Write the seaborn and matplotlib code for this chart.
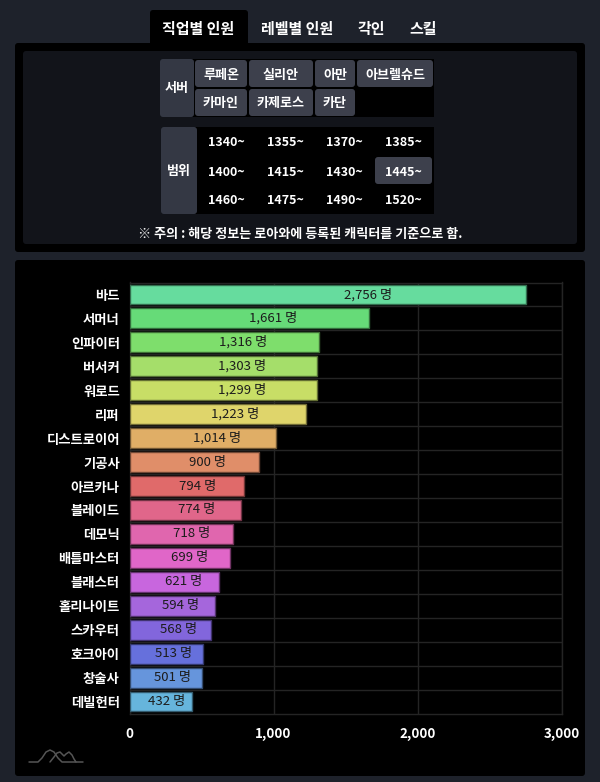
import matplotlib
matplotlib.use('Agg')
import matplotlib.pyplot as plt
from matplotlib.colors import to_rgb
from matplotlib.patches import FancyBboxPatch, Rectangle
import seaborn as sns
import pandas as pd

# chart data
classes = ['바드', '서머너', '인파이터', '버서커', '워로드', '리퍼', '디스트로이어', '기공사', '아르카나',
           '블레이드', '데모닉', '배틀마스터', '블래스터', '홀리나이트', '스카우터', '호크아이', '창술사', '데빌헌터']
counts = [2756, 1661, 1316, 1303, 1299, 1223, 1014, 900, 794, 774, 718, 699, 621, 594, 568, 513, 501, 432]
bar_colors = ['#66dc9e', '#66db78', '#7ede6c', '#a5de6a', '#c8de66', '#dfd56b', '#e0ae66', '#e08e69', '#e06a6a',
              '#e0668a', '#e066ae', '#e066c8', '#c866de', '#a566dc', '#8266dc', '#6670dc', '#6695dc', '#66b5dc']
x_ticks = [0, 1000, 2000, 3000]

# page widgets
tabs = ['직업별 인원', '레벨별 인원', '각인', '스킬']
tab_x = [198, 297, 371, 423]
servers_row1 = ['루페온', '실리안', '아만', '아브렐슈드']
servers_row2 = ['카마인', '카제로스', '카단']
button_edges = [(195, 247), (249, 313), (315, 355), (357, 433)]
ranges = ['1340~', '1355~', '1370~', '1385~',
          '1400~', '1415~', '1430~', '1445~',
          '1460~', '1475~', '1490~', '1520~']
range_x = [226, 285, 344, 403]
range_y = [142, 171, 200]
note = '※ 주의 : 해당 정보는 로아와에 등록된 캐릭터를 기준으로 함.'

sns.set_theme(style='dark')
plt.rcParams['font.family'] = ['Noto Sans CJK KR', 'DejaVu Sans']
plt.rcParams['font.size'] = 9.4

PAGE = '#1e222b'
W, H = 600, 782


def box(ax, x0, y0, x1, y1, color, r=3, z=1):
    ax.add_patch(FancyBboxPatch((x0 + r, y0 + r), x1 - x0 - 2 * r, y1 - y0 - 2 * r,
                                boxstyle=f'round,pad={r},rounding_size={r}',
                                fc=color, ec='none', zorder=z))


def label(ax, x, y, s, size=9.4, color='white'):
    # +1 because the CJK font sits a bit high when centered
    ax.text(x, y + 1, s, ha='center', va='center', color=color, fontsize=size, weight='bold', zorder=5)


fig = plt.figure(figsize=(W / 100, H / 100), dpi=100, facecolor=PAGE)

# full page layer in pixel units
page = fig.add_axes([0, 0, 1, 1])
page.set_xlim(0, W)
page.set_ylim(H, 0)
page.axis('off')

box(page, 150, 10, 248, 60, 'black')
box(page, 15, 43, 585, 252, 'black')
box(page, 23, 51, 577, 244, '#12141a')
box(page, 15, 260, 585, 776, 'black')

for t, x in zip(tabs, tab_x):
    label(page, x, 28, t, size=10.8)

# server table
page.add_patch(Rectangle((190, 59), 244, 58, fc='black', ec='none', zorder=1))
box(page, 160, 59, 194, 117, '#343844', z=2)
label(page, 177, 87, '서버')
for (x0, x1), s in zip(button_edges, servers_row1):
    box(page, x0, 60, x1, 87, '#3d404c', z=2)
    label(page, (x0 + x1) / 2, 73.5, s)
for (x0, x1), s in zip(button_edges, servers_row2):
    box(page, x0, 89, x1, 116, '#3d404c', z=2)
    label(page, (x0 + x1) / 2, 102.5, s)

# item level table
page.add_patch(Rectangle((192, 127), 242, 87, fc='black', ec='none', zorder=1))
box(page, 161, 127, 197, 214, '#343844', z=2)
label(page, 179, 170, '범위')
box(page, 375, 157, 432, 184, '#3d404c', z=2)
for i, s in enumerate(ranges):
    label(page, range_x[i % 4], range_y[i // 4], s, size=9.0)
label(page, 300, 233, note, size=9.4)

# little logo bottom left
page.plot([29, 38, 42, 46, 50, 54, 58, 62, 83], [762, 762, 758, 752, 750, 752, 758, 762, 762],
          color='#555555', lw=1.1, zorder=3)
page.plot([50, 54, 57, 60, 62, 64, 66, 69, 72, 74, 76], [762, 757, 753, 752, 754, 756, 754, 752, 755, 759, 762],
          color='#555555', lw=1.1, zorder=3)

# chart
df = pd.DataFrame({'직업': classes, '인원': counts})
ax = fig.add_axes([129.5 / W, 1 - 713.5 / H, 432 / W, 431 / H])
ax.set_facecolor('black')
sns.barplot(data=df, x='인원', y='직업', hue='직업', palette=bar_colors, legend=False,
            width=0.83, saturation=1, ax=ax, zorder=3)
for bar, c in zip(ax.patches, bar_colors):
    bar.set_edgecolor(tuple(v * 0.5 for v in to_rgb(c)))
    bar.set_linewidth(1)
# value labels sit at 60% of the bar length
for i, v in enumerate(counts):
    ax.text(v * 0.6, i, f'{v:,} 명', ha='center', va='center', color='#1c1c1c', fontsize=9.5, zorder=5)

ax.set_xlim(0, 3000)
ax.set_ylim(len(classes) - 0.5, -0.5)
ax.set_xticks(x_ticks)
ax.set_xticklabels([f'{v:,}' for v in x_ticks], color='white', fontsize=9.6, weight='bold')
ax.set_ylabel('')
ax.set_xlabel('')
ax.tick_params(axis='x', length=0, pad=10)
ax.tick_params(axis='y', length=0, pad=7, labelcolor='white', labelsize=9.6)
for t in ax.get_yticklabels():
    t.set_weight('bold')
ax.grid(True, color='#242424', lw=1, zorder=0)
# row separators sit between the bars
ax.set_yticks([i + 0.5 for i in range(len(classes) - 1)], minor=True)
ax.grid(True, which='minor', axis='y', color='#242424', lw=1, zorder=0)
ax.grid(False, which='major', axis='y')
ax.tick_params(axis='y', which='minor', length=0)
for s in ax.spines.values():
    s.set_color('#242424')
    s.set_linewidth(1)

fig.savefig('out.png', dpi=100, facecolor=PAGE)
